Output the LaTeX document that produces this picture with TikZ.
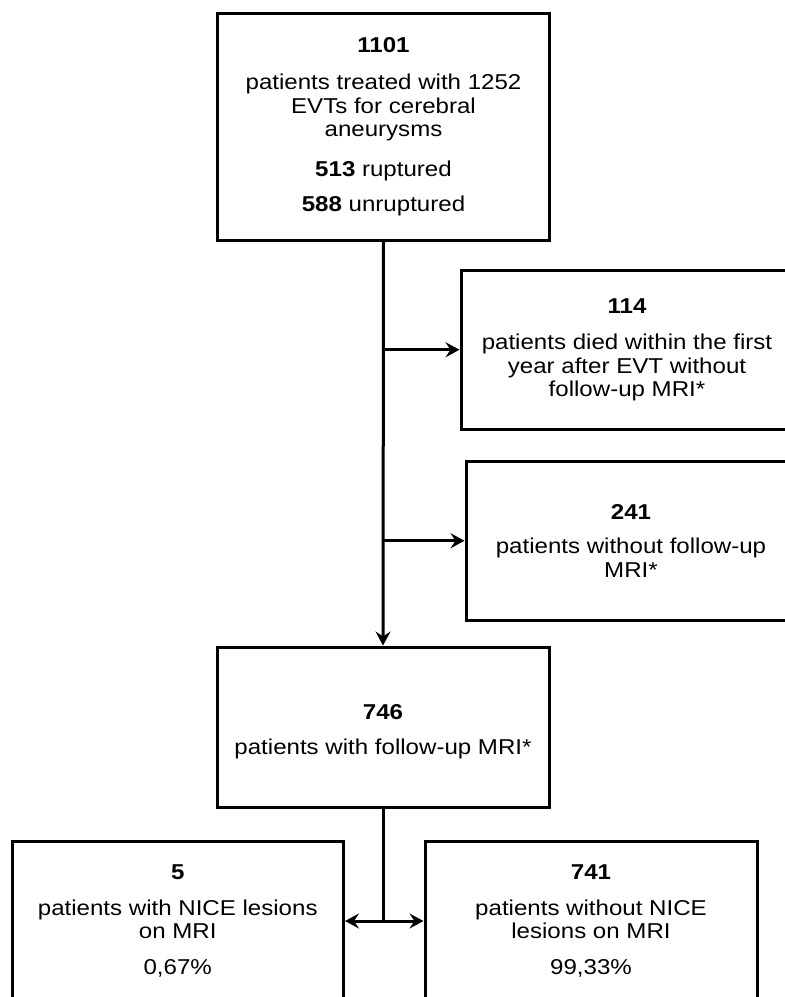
\documentclass[tikz,border=0pt]{standalone}
\usepackage{fontspec}
\setmainfont[FakeStretch=1.12]{Liberation Sans}
\usetikzlibrary{positioning,arrows.meta}
\tikzset{
  box/.style={draw=black, line width=3pt, align=center, inner sep=0pt,
              minimum width=332pt, minimum height=160pt,
              font=\fontsize{21.5}{23.5}\selectfont},
  arr/.style={-{Stealth[length=14pt,width=15pt,inset=5pt]}, line width=3pt},
  link/.style={line width=3pt},
}

\begin{document}
\begin{tikzpicture}[x=1pt,y=-1pt]
  \useasboundingbox (0,0) rectangle (785,997);

  % main column
  \node[box, minimum height=227pt] (total) at (383.5,126.5)
    {\textbf{1101}\\[14pt]
     patients treated with 1252\\EVTs for cerebral\\aneurysms\\[16pt]
     \textbf{513} ruptured\\[12pt]
     \textbf{588} unruptured};
  \node[box] (fu) at (383,727)
    {\rule{0pt}{24pt}\textbf{746}\\[11pt] patients with follow-up MRI*};

  % excluded on the right
  \node[box, minimum height=159.5pt] (died) at (627,349.75)
    {\textbf{114}\\[13pt] patients died within the first\\year after EVT without\\follow-up MRI*};
  \node[box, minimum width=330pt, minimum height=159.5pt] (nofu) at (631,540.75)
    {\textbf{241}\\[11pt] patients without follow-up\\MRI*};

  % outcome boxes
  \node[box, minimum width=331.5pt] (nice) at (177.75,921)
    {\textbf{5}\\[12pt] patients with NICE lesions\\on MRI\\[12pt] 0,67\%};
  \node[box] (nonice) at (591,921)
    {\textbf{741}\\[12pt] patients without NICE\\lesions on MRI\\[12pt] 99,33\%};

  % connectors
  \draw[arr] (total.south) -- (fu.north);
  \draw[arr] (total.south |- died.west) -- (died.west);
  \draw[arr] (total.south |- nofu.west) -- (nofu.west);
  \draw[link] (fu.south) -- (fu.south |- nice.east);
  \draw[arr] (fu.south |- nice.east) -- (nice.east);
  \draw[arr] (fu.south |- nonice.west) -- (nonice.west);
\end{tikzpicture}
\end{document}
